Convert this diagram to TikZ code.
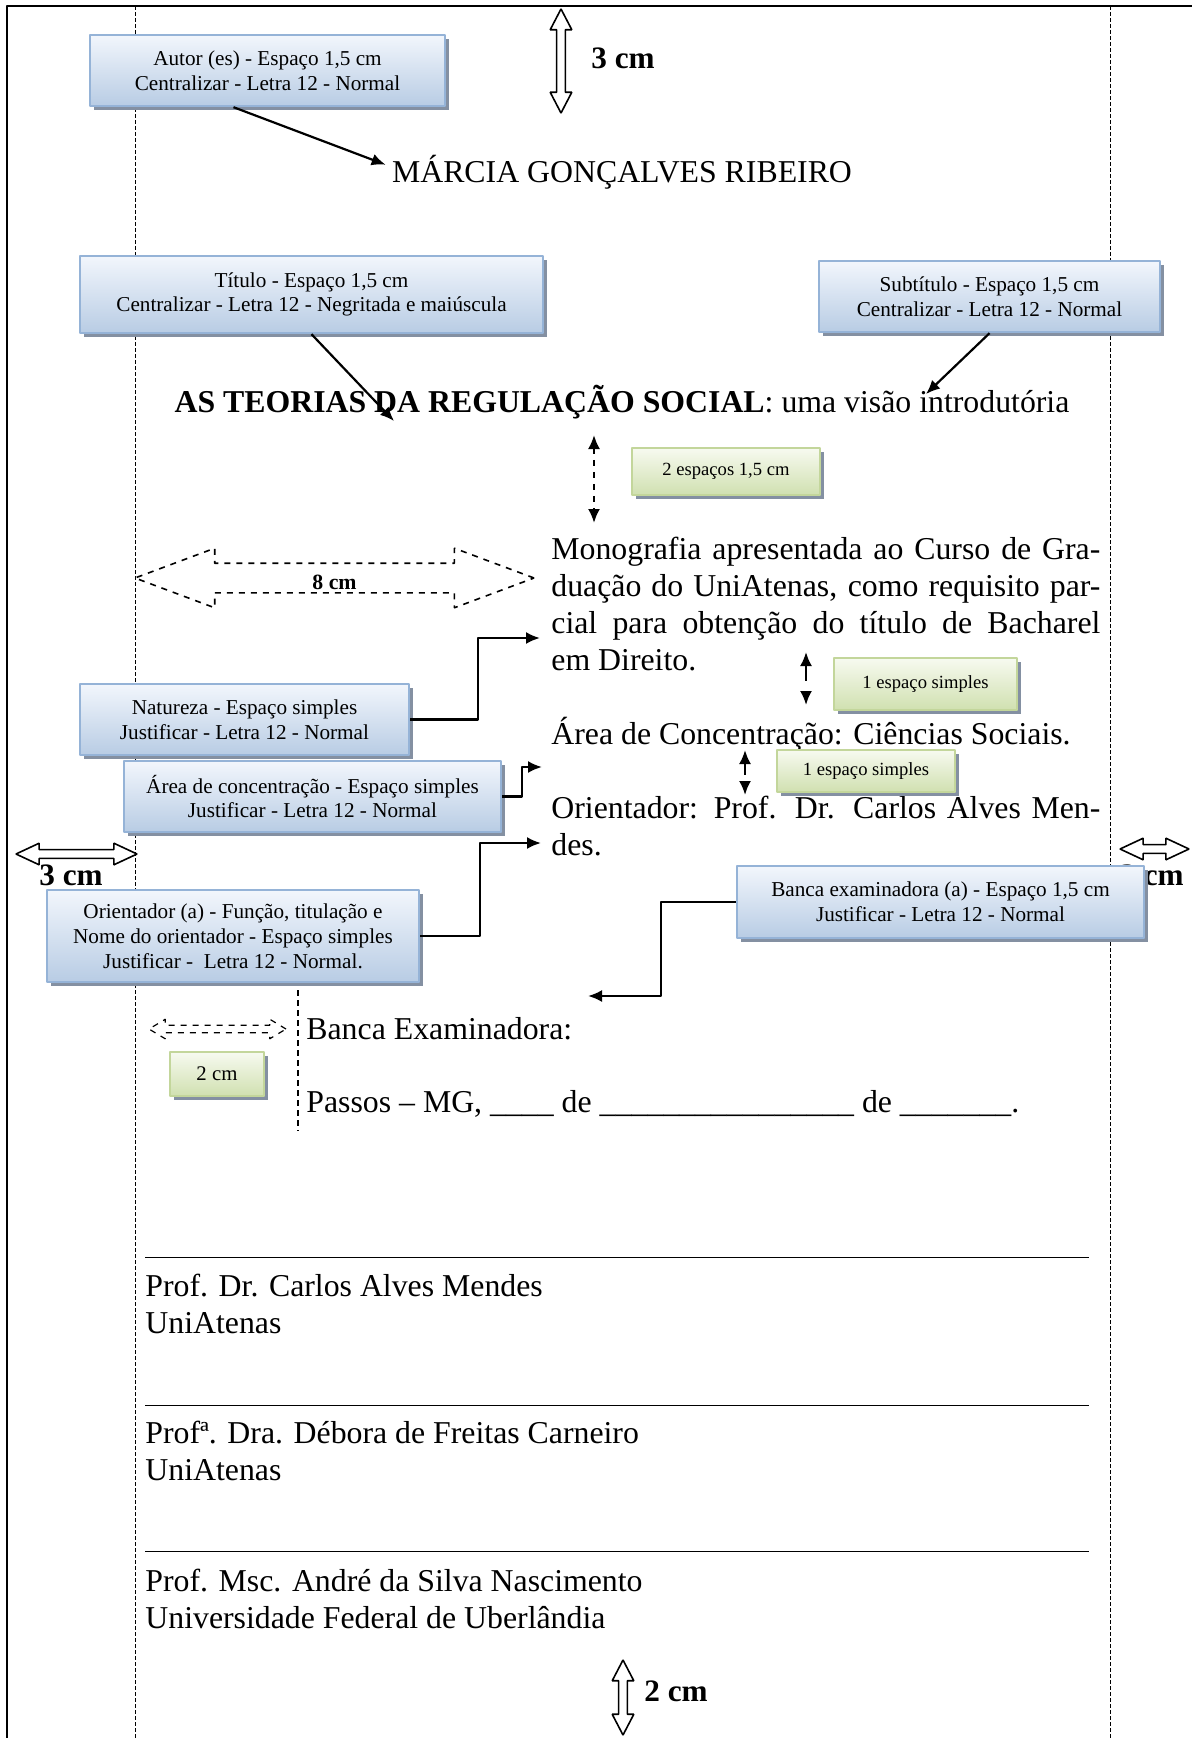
\documentclass[tikz,border=0pt]{standalone}
\usepackage{fontspec}
\setmainfont{Liberation Serif}
\usepackage{tikz}
\usetikzlibrary{arrows.meta,shapes.arrows,shadows}
\definecolor{boxtop}{RGB}{242,246,252}
\definecolor{boxbot}{RGB}{184,204,228}
\definecolor{boxline}{RGB}{149,179,215}
\definecolor{greentop}{RGB}{247,250,240}
\definecolor{greenbot}{RGB}{208,224,176}
\definecolor{greenline}{RGB}{195,214,155}
\definecolor{shadowcol}{RGB}{132,144,162}

\begin{document}
\begin{tikzpicture}[x=0.5pt,y=-0.5pt,>={Latex[length=7pt,width=6pt]},line join=bevel,
  bluebox/.style={draw=boxline,line width=1.2pt,top color=boxtop,bottom color=boxbot,
    drop shadow={shadow xshift=2pt,shadow yshift=-2pt,fill=shadowcol,opacity=1},
    align=center,inner sep=0pt,font=\fontsize{10.6}{12.4}\selectfont},
  greenbox/.style={draw=greenline,line width=1.2pt,top color=greentop,bottom color=greenbot,
    drop shadow={shadow xshift=2pt,shadow yshift=-2pt,fill=shadowcol,opacity=1},
    align=center,inner sep=0pt,font=\fontsize{9.3}{11}\selectfont},
  body/.style={inner sep=0pt,align=left,font=\fontsize{15.9}{18.5}\selectfont},
  cmlabel/.style={inner sep=0pt,font=\fontsize{15.6}{18}\selectfont\bfseries},
  hollow/.style={double arrow,draw,line width=0.8pt,inner xsep=0pt,inner ysep=1.8pt,
    double arrow head extend=3.2pt,fill=white},
  margin/.style={line width=0.4pt,dash pattern=on 2pt off 1pt},
  conn/.style={->,line width=1.1pt},
  gap/.style={<->,line width=1.1pt},
]
%% page and margins
\useasboundingbox (0,0) rectangle (1192,1738);
\draw[line width=1pt] (7,1738) -- (7,6) -- (1192,6);
\draw[margin] (135,6) -- (135,1738);
\draw[margin] (1110,6) -- (1110,1738);
%
%% distance markers
\node[hollow,rotate=90,minimum height=52pt,double arrow tip angle=55] (topm) at (561,61) {};
\node[cmlabel,anchor=base west] (topcm) at (591,69) {3 cm};
\node[hollow,minimum height=60.5pt,double arrow tip angle=50] (leftm) at (76.5,854) {};
\node[cmlabel,anchor=base west] (leftcm) at (39,885) {3 cm};
\node[hollow,minimum height=34.5pt,double arrow tip angle=50] (rightm) at (1154.5,849) {};
\node[cmlabel,anchor=base west] (rightcm) at (1120,885) {3 cm};
\node[hollow,rotate=90,minimum height=37.5pt,double arrow tip angle=55] (botm) at (623,1697.5) {};
\node[cmlabel,anchor=base west] (botcm) at (644,1701) {2 cm};
\node[hollow,dashed,fill=none,inner ysep=7pt,double arrow head extend=7.5pt,
  minimum height=199.5pt,double arrow tip angle=41] (eightm) at (334.5,578) {};
\node[inner sep=0pt,anchor=base west,font=\fontsize{10.9}{12}\selectfont\bfseries] (eightcm) at (312,589) {8 cm};
\node[hollow,dashed,fill=none,line width=0.6pt,inner ysep=1.6pt,double arrow head extend=3pt,
  minimum height=68.5pt,double arrow tip angle=62] (twom) at (217.5,1029) {};
\draw[line width=0.8pt,dash pattern=on 3pt off 2pt] (298,990) -- (298,1131);
\draw[gap,dashed] (594,435) -- (594,523);
\draw[gap,dash pattern=on 8pt off 7pt] (806,652) -- (806,705);
\draw[gap,dash pattern=on 6pt off 6pt] (745,750) -- (745,795);
%
%% page text
\node[body,anchor=base] (marcia) at (622,183) {MÁRCIA GONÇALVES RIBEIRO};
\node[body,anchor=base] (titulo) at (622,412) {\textbf{AS TEORIAS DA REGULAÇÃO SOCIAL}: uma visão introdutória};
\node[body,anchor=base west] (mono) at (551,670) {\makebox[274.5pt][s]{Monografia apresentada ao Curso de Gra-}\\
  \makebox[274.5pt][s]{duação do UniAtenas, como requisito par-}\\
  \makebox[274.5pt][s]{cial para obtenção do título de Bacharel}\\
  em Direito.};
\node[body,anchor=base west] (areac) at (551,744) {Área de Concentração: Ciências Sociais.};
\node[body,anchor=base west] (orient) at (551,855) {\makebox[274.5pt][s]{Orientador: Prof. Dr. Carlos Alves Men-}\\
  des.};
\node[body,anchor=base west] (bancaex) at (306,1039) {Banca Examinadora:};
\node[body,anchor=base west] (passos) at (306,1112) {Passos – MG, \_\_\_\_ de \_\_\_\_\_\_\_\_\_\_\_\_\_\_\_\_ de \_\_\_\_\_\_\_.};
\node[inner sep=0pt,anchor=south west] (linha1) at (145,1259) {\rule{472pt}{0.8pt}};
\node[body,anchor=base west] (prof1) at (145,1333) {Prof. Dr. Carlos Alves Mendes\\UniAtenas};
\node[inner sep=0pt,anchor=south west] (linha2) at (145,1407) {\rule{472pt}{0.8pt}};
\node[body,anchor=base west] (prof2) at (145,1480) {Prof\textordfeminine. Dra. Débora de Freitas Carneiro\\UniAtenas};
\node[inner sep=0pt,anchor=south west] (linha3) at (145,1553) {\rule{472pt}{0.8pt}};
\node[body,anchor=base west] (prof3) at (145,1628) {Prof. Msc. André da Silva Nascimento\\Universidade Federal de Uberlândia};
%
%% note boxes
\node[bluebox,minimum width=177.5pt,minimum height=35.5pt] (autor) at (267.5,70.5)
  {Autor (es) - Espaço 1,5 cm\\Centralizar - Letra 12 - Normal};
\node[bluebox,minimum width=231.5pt,minimum height=38.5pt] (tit) at (311.5,294.5)
  {Título - Espaço 1,5 cm\\Centralizar - Letra 12 - Negritada e maiúscula};
\node[bluebox,minimum width=170.5pt,minimum height=35.5pt] (subtit) at (989.5,296.5)
  {Subtítulo - Espaço 1,5 cm\\Centralizar - Letra 12 - Normal};
\node[bluebox,minimum width=164.5pt,minimum height=35.5pt] (natureza) at (244.5,719.5)
  {Natureza - Espaço simples\\Justificar - Letra 12 - Normal};
\node[bluebox,minimum width=188.5pt,minimum height=35.5pt] (area) at (312.5,796.5)
  {Área de concentração - Espaço simples\\Justificar - Letra 12 - Normal};
\node[bluebox,minimum width=186pt,minimum height=46pt] (orientbox) at (233,936)
  {Orientador (a) - Função, titulação e\\Nome do orientador - Espaço simples\\Justificar -~~Letra 12 - Normal.};
\node[bluebox,minimum width=203.5pt,minimum height=36pt] (banca) at (940.5,902)
  {Banca examinadora (a) - Espaço 1,5 cm\\Justificar - Letra 12 - Normal};
\node[greenbox,minimum width=94pt,minimum height=23.5pt] (esp2) at (726,471.5) {2 espaços 1,5 cm};
\node[greenbox,minimum width=91.5pt,minimum height=26pt] (esp1a) at (925.5,684) {1 espaço simples};
\node[greenbox,minimum width=89pt,minimum height=21pt] (esp1b) at (866,771) {1 espaço simples};
\node[greenbox,minimum width=47pt,minimum height=22pt,font=\fontsize{10.4}{12}\selectfont] (cm2) at (217,1074) {2 cm};
%
%% connectors
\coordinate (titTip) at (394,421);
\coordinate (subTip) at (926,394);
\coordinate (natIn) at (540,638);
\coordinate (areaIn) at (542,767);
\coordinate (oriIn) at (541,843);
\coordinate (bancaIn) at (588,996);
\draw[conn] ([xshift=-17pt]autor.south) -- ([xshift=-3pt,yshift=4pt]marcia.west);
\draw[conn] (tit.south) -- (titTip);
\draw[conn] (subtit.south) -- (subTip);
\draw[conn] (natureza.east) -- ++(34pt,0) |- (natIn);
\draw[conn] (area.east) -- ++(10pt,0) |- (areaIn);
\draw[conn] (orientbox.east) -- ++(30pt,0) |- (oriIn);
\draw[conn] (banca.west) -- ++(-37.5pt,0) |- (bancaIn);
%
\end{tikzpicture}
\end{document}
